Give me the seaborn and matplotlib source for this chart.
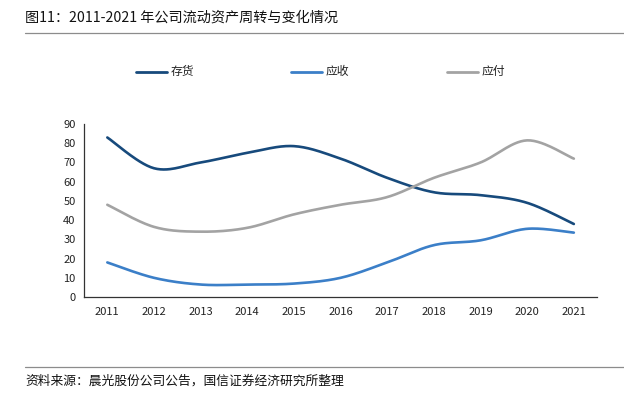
import matplotlib

matplotlib.use("Agg")

import matplotlib.pyplot as plt
import numpy as np
import pandas as pd
import seaborn as sns

YEARS = ["2011", "2012", "2013", "2014", "2015", "2016", "2017", "2018", "2019", "2020", "2021"]
INVENTORY = [83, 67, 70, 75, 78.5, 72, 62, 54.5, 53, 49, 38]
RECEIVABLE = [18, 10, 6.5, 6.5, 7, 10, 18, 27, 29.5, 35.5, 33.5]
PAYABLE = [48, 36.5, 34, 36, 43, 48, 52, 62, 70, 81.5, 72]

SERIES = {"存货": INVENTORY, "应收": RECEIVABLE, "应付": PAYABLE}
COLORS = {"存货": "#174A7C", "应收": "#3B7FC8", "应付": "#A3A3A3"}


def smooth_curve(values, steps=30):
    """Excel 风格平滑线: 相邻点之间画三次贝塞尔曲线。"""
    y = np.asarray(values, dtype=float)
    x = np.arange(len(y), dtype=float)
    pts = np.column_stack([x, y])
    padded = np.vstack([pts[0], pts, pts[-1]])
    t = np.linspace(0, 1, steps)[:, None]
    out = []
    for i in range(len(pts) - 1):
        p0, p3 = padded[i + 1], padded[i + 2]
        p1 = p0 + (padded[i + 2] - padded[i]) / 6
        p2 = p3 - (padded[i + 3] - padded[i + 1]) / 6
        seg = (1 - t) ** 3 * p0 + 3 * (1 - t) ** 2 * t * p1 + 3 * (1 - t) * t ** 2 * p2 + t ** 3 * p3
        out.append(seg if i == 0 else seg[1:])
    return np.vstack(out)


sns.set_style("white")
plt.rcParams["font.family"] = ["Noto Sans CJK SC", "DejaVu Sans"]

frames = []
for name, values in SERIES.items():
    curve = smooth_curve(values)
    frames.append(pd.DataFrame({"x": curve[:, 0], "y": curve[:, 1], "series": name}))
data = pd.concat(frames, ignore_index=True)

fig = plt.figure(figsize=(6.24, 3.95), dpi=100)
ax = fig.add_axes([0.1346, 0.248, 0.957 - 0.1346, 0.686 - 0.248])

sns.lineplot(data=data, x="x", y="y", hue="series", palette=COLORS, sort=False,
             estimator=None, linewidth=1.9, ax=ax, legend=False)

ax.set_xlim(-0.5, len(YEARS) - 0.5)
ax.set_ylim(0, 90)
ax.set_yticks(range(0, 91, 10))
ax.set_xticks(np.arange(-0.5, len(YEARS), 1.0))
ax.set_xticklabels([])
ax.set_xticks(range(len(YEARS)), minor=True)
ax.set_xticklabels(YEARS, minor=True)
ax.tick_params(axis="x", which="major", direction="out", length=4, width=0.9, color="#333333")
ax.tick_params(axis="x", which="minor", length=0, pad=7, labelsize=8, labelcolor="#222222")
ax.tick_params(axis="y", direction="out", length=4, width=0.9, color="#333333", labelsize=8,
               labelcolor="#222222", pad=2)
ax.set_xlabel("")
ax.set_ylabel("")
for side in ["top", "right"]:
    ax.spines[side].set_visible(False)
for side in ["left", "bottom"]:
    ax.spines[side].set_color("#333333")
    ax.spines[side].set_linewidth(0.9)

# 图例
legend_pos = {"存货": 136, "应收": 291, "应付": 447}
for name, x0 in legend_pos.items():
    fig.add_artist(plt.Line2D([x0 / 624, (x0 + 31) / 624], [1 - 72 / 395] * 2,
                              color=COLORS[name], linewidth=2))
    fig.text((x0 + 35) / 624, 1 - 72 / 395, name, fontsize=8.5, va="center", ha="left", color="#222222")

fig.text(25 / 624, 1 - 18 / 395, "图11：2011-2021 年公司流动资产周转与变化情况", fontsize=10.2,
         va="center", ha="left", color="#111111")
fig.add_artist(plt.Line2D([25 / 624, 1], [1 - 33 / 395] * 2, color="#8C8C8C", linewidth=0.9))
fig.add_artist(plt.Line2D([25 / 624, 1], [1 - 367 / 395] * 2, color="#8C8C8C", linewidth=0.9))
fig.text(25 / 624, 1 - 381 / 395, "资料来源：晨光股份公司公告，国信证券经济研究所整理", fontsize=9.2,
         va="center", ha="left", color="#111111")

fig.savefig("out.png", dpi=100)
